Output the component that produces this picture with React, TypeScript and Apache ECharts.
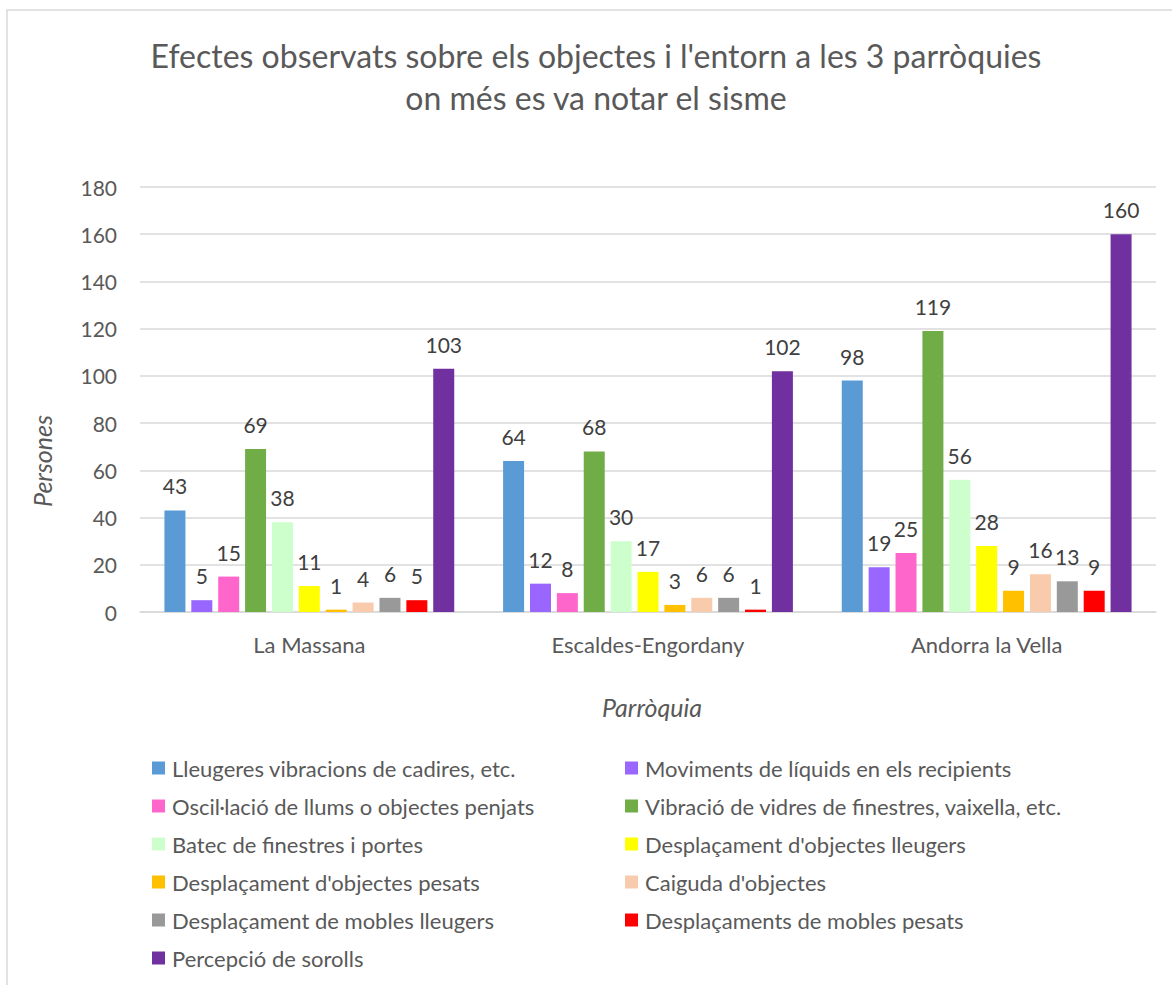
import React, { useEffect, useRef } from "react";
import * as echarts from "echarts";

const categories = ["La Massana", "Escaldes-Engordany", "Andorra la Vella"];

const seriesNames = [
  "Lleugeres vibracions de cadires, etc.",
  "Moviments de líquids en els recipients",
  "Oscil·lació de llums o objectes penjats",
  "Vibració de vidres de finestres, vaixella, etc.",
  "Batec de finestres i portes",
  "Desplaçament d'objectes lleugers",
  "Desplaçament d'objectes pesats",
  "Caiguda d'objectes",
  "Desplaçament de mobles lleugers",
  "Desplaçaments de mobles pesats",
  "Percepció de sorolls",
];

const seriesColors = [
  "#5B9BD5",
  "#9966FF",
  "#FF66CC",
  "#70AD47",
  "#CCFFCC",
  "#FFFF00",
  "#FFC000",
  "#F8CBAD",
  "#999999",
  "#FF0000",
  "#7030A0",
];

// values per series: [La Massana, Escaldes-Engordany, Andorra la Vella]
const lleugeresVibracions = [43, 64, 98];
const movimentsLiquids = [5, 12, 19];
const oscillacioLlums = [15, 8, 25];
const vibracioVidres = [69, 68, 119];
const batecFinestres = [38, 30, 56];
const despObjLleugers = [11, 17, 28];
const despObjPesats = [1, 3, 9];
const caigudaObjectes = [4, 6, 16];
const despMoblesLleugers = [6, 6, 13];
const despMoblesPesats = [5, 1, 9];
const percepcioSorolls = [103, 102, 160];

const seriesValues = [
  lleugeresVibracions,
  movimentsLiquids,
  oscillacioLlums,
  vibracioVidres,
  batecFinestres,
  despObjLleugers,
  despObjPesats,
  caigudaObjectes,
  despMoblesLleugers,
  despMoblesPesats,
  percepcioSorolls,
];

const yTicks = { min: 0, max: 180, interval: 20 };

const titleLines = [
  "Efectes observats sobre els objectes i l'entorn a les 3 parròquies",
  "on més es va notar el sisme",
];

const FONT = "Lato, 'Open Sans', sans-serif";
const TEXT = "#595959";

export default function App() {
  const ref = useRef<HTMLDivElement>(null);

  useEffect(() => {
    if (!ref.current) return;
    const chart = echarts.init(ref.current, undefined, { renderer: "svg" });

    const legendItem = (name: string) => ({ name, icon: "rect" });
    const legendCommon = {
      type: "plain" as const,
      orient: "vertical" as const,
      height: 240,
      itemWidth: 13,
      itemHeight: 13,
      itemGap: 16,
      selectedMode: false,
      textStyle: { fontSize: 22, color: TEXT, fontFamily: FONT, padding: [0, 0, 0, 2] },
    };

    chart.setOption({
      animation: false,
      backgroundColor: "#ffffff",
      textStyle: { fontFamily: FONT },
      grid: { left: 140, right: 16, top: 187, bottom: 373, containLabel: false },
      legend: [
        {
          ...legendCommon,
          left: 147,
          top: 752,
          data: seriesNames.filter((_, i) => i % 2 === 0).map(legendItem),
        },
        {
          ...legendCommon,
          left: 620,
          top: 752,
          data: seriesNames.filter((_, i) => i % 2 === 1).map(legendItem),
        },
      ],
      xAxis: {
        type: "category",
        data: categories,
        axisLine: { show: true, lineStyle: { color: "#D9D9D9", width: 1.5 } },
        axisTick: { show: false },
        axisLabel: { fontSize: 22, color: TEXT, fontFamily: FONT, margin: 21 },
      },
      yAxis: {
        type: "value",
        min: yTicks.min,
        max: yTicks.max,
        interval: yTicks.interval,
        axisLine: { show: false },
        axisTick: { show: false },
        splitLine: { lineStyle: { color: "#D9D9D9", width: 1.5 } },
        axisLabel: { fontSize: 21, color: TEXT, fontFamily: FONT, margin: 23 },
      },
      series: seriesNames.map((name, i) => ({
        name,
        type: "bar",
        data: seriesValues[i],
        barWidth: 21,
        barGap: "28%",
        itemStyle: { color: seriesColors[i] },
        label: {
          show: true,
          position: "top",
          distance: 14,
          fontSize: 21,
          color: "#404040",
          fontFamily: FONT,
        },
      })),
      graphic: [
        {
          type: "rect",
          silent: true,
          shape: { x: 7, y: 10, width: 1200, height: 1000 },
          style: { fill: "none", stroke: "#D9D9D9", lineWidth: 1.5 },
        },
        {
          type: "text",
          x: 596,
          y: 55,
          style: {
            text: titleLines[0],
            fontSize: 32,
            fill: TEXT,
            fontFamily: FONT,
            textAlign: "center",
            textVerticalAlign: "middle",
          },
        },
        {
          type: "text",
          x: 596,
          y: 97,
          style: {
            text: titleLines[1],
            fontSize: 32,
            fill: TEXT,
            fontFamily: FONT,
            textAlign: "center",
            textVerticalAlign: "middle",
          },
        },
        {
          type: "text",
          x: 42,
          y: 461,
          rotation: Math.PI / 2,
          style: {
            text: "Persones",
            fontSize: 25,
            fontStyle: "italic",
            fill: TEXT,
            fontFamily: FONT,
            textAlign: "center",
            textVerticalAlign: "middle",
          },
        },
        {
          type: "text",
          x: 652,
          y: 707,
          style: {
            text: "Parròquia",
            fontSize: 25,
            fontStyle: "italic",
            fill: TEXT,
            fontFamily: FONT,
            textAlign: "center",
            textVerticalAlign: "middle",
          },
        },
      ],
    });

    return () => chart.dispose();
  }, []);

  return (
    <div
      ref={ref}
      style={{ position: "absolute", left: 0, top: 0, width: 1172, height: 985 }}
    />
  );
}
